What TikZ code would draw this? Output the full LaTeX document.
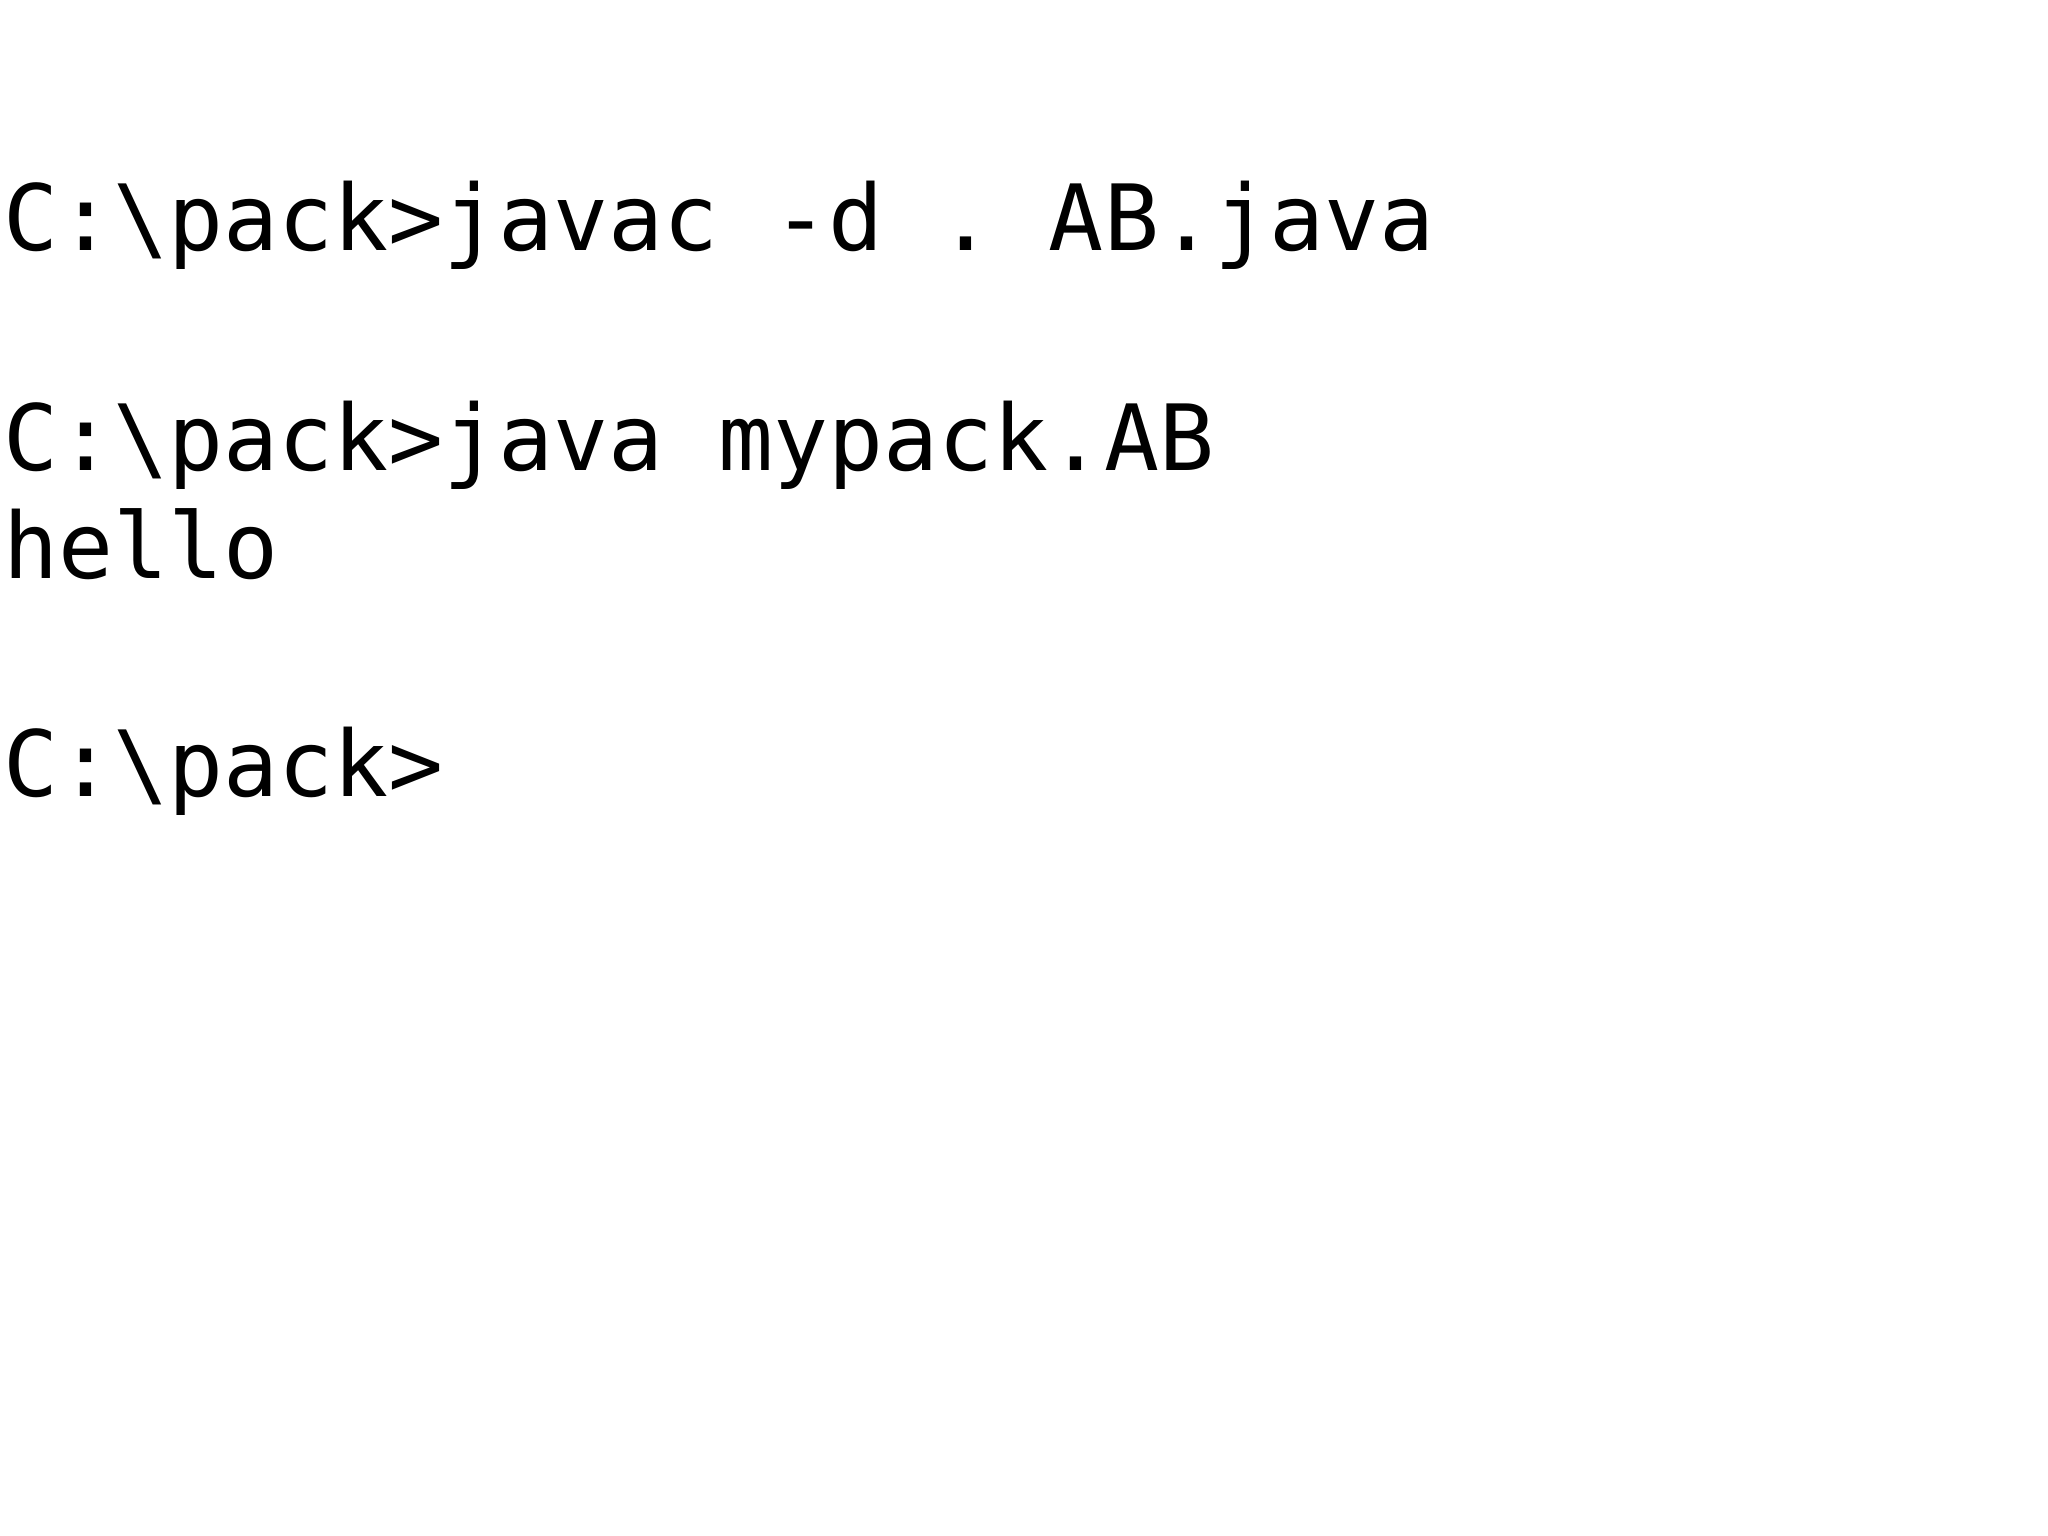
\documentclass[tikz,border=0pt]{standalone}
\usepackage{fontspec}
\setmonofont{DejaVu Sans Mono}
\tikzset{
	consoleline/.style = {anchor = base west, inner sep = 0pt,
		font = \ttfamily\fontsize{19.9pt}{23pt}\selectfont}
}
\begin{document}
\begin{tikzpicture}[x=0.01cm, y=0.01cm]
	
	\useasboundingbox (0,0) rectangle (1568,-1176);
	
	\node [consoleline] (compile) at (2,-192){C:\textbackslash pack>javac -d . AB.java};
	\node [consoleline] (run) at (2,-360){C:\textbackslash pack>java mypack.AB};
	\node [consoleline] (output) at (2,-443){hello};
	\node [consoleline] (prompt) at (2,-610){C:\textbackslash pack>};
	
\end{tikzpicture}
\end{document}
